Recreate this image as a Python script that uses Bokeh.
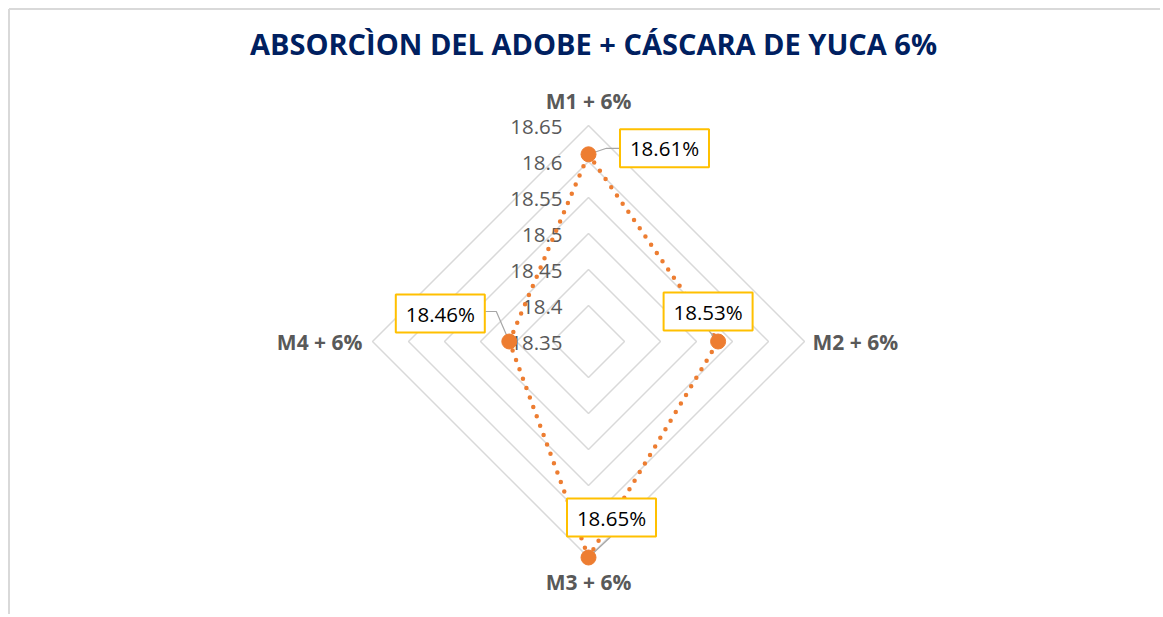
import numpy as np
from bokeh.plotting import figure
from bokeh.models import Range1d
from bokeh.core.properties import value
from bokeh.embed import file_html
from bokeh.resources import INLINE

# ---------------- data ----------------
title = "ABSORCÌON DEL ADOBE + CÁSCARA DE YUCA 6%"
categories = ["M1 + 6%", "M2 + 6%", "M3 + 6%", "M4 + 6%"]
values = [18.61, 18.53, 18.65, 18.46]
value_labels = ["18.61%", "18.53%", "18.65%", "18.46%"]
ticks = [18.35, 18.40, 18.45, 18.50, 18.55, 18.60, 18.65]
tick_labels = ["18.35", "18.4", "18.45", "18.5", "18.55", "18.6", "18.65"]
r_min, r_max = 18.35, 18.65

# ---------------- layout (pixels) ----------------
W, H = 1160, 614
S = 720.0          # pixels per value unit
cx, cy = 588, 341  # centre of the radar in figure pixels

FONT = value("Open Sans")
GRAY_TXT = "#595959"
RING = "#D9D9D9"
ORANGE = "#ED7D31"
GOLD = "#FFC000"

p = figure(width=W, height=H, output_backend="svg", toolbar_location=None,
           x_range=Range1d(-cx / S, (W - cx) / S),
           y_range=Range1d(-(H - cy) / S, cy / S),
           x_axis_location=None, y_axis_location=None, min_border=0)
p.grid.visible = False
p.outline_line_color = None
p.background_fill_color = "white"
p.border_fill_color = "white"

angles = np.pi / 2 - np.arange(len(categories)) * np.pi / 2


def polar(v, a):
    r = v - r_min
    return r * np.cos(a), r * np.sin(a)


# chart border (top and left visible)
x0, x1 = -cx / S, (W - cx) / S
y0, y1 = -(H - cy) / S, cy / S
bl, bt = x0 + 8.5 / S, y1 - 8.5 / S
p.segment(x0=[bl, bl], y0=[y0, bt], x1=[bl, x1], y1=[bt, bt],
          line_color=RING, line_width=2)

# rings
ring_xs, ring_ys = [], []
for t in ticks[1:]:
    pts = [polar(t, a) for a in angles]
    pts.append(pts[0])
    ring_xs.append([q[0] for q in pts])
    ring_ys.append([q[1] for q in pts])
p.multi_line(ring_xs, ring_ys, line_color=RING, line_width=1.5)

# tick labels
p.text(x=[-26 / S] * len(ticks), y=[t - r_min - 1 / S for t in ticks], text=tick_labels,
       text_font=FONT, text_font_size="20.5px", text_color=GRAY_TXT,
       text_align="right", text_baseline="middle")

# category labels
cat_off = [(0, 25, "center"), (8, 0, "left"), (0, -24, "center"), (-10, 0, "right")]
for c, a, (dx, dy, al) in zip(categories, angles, cat_off):
    x, y = polar(r_max, a)
    p.text(x=[x + dx / S], y=[y + dy / S], text=[c], text_font=FONT,
           text_font_size="21px", text_font_style="bold", text_color=GRAY_TXT,
           text_align=al, text_baseline="middle")

# series
pts = [polar(v, a) for v, a in zip(values, angles)]
sx = [q[0] for q in pts] + [pts[0][0]]
sy = [q[1] for q in pts] + [pts[0][1]]
p.line(sx, sy, line_color=ORANGE, line_width=4.5, line_dash="0 10", line_cap="round")

# leader lines (pixel offsets from each point)
leaders = [[(0, 0), (18, 6), (31, 6)],
           [(0, 0), (-9, 10.5)],
           [(0, 0), (22, 20.5)],
           [(0, 0), (-13, 30), (-24, 30)]]
lx, ly = [], []
for (px, py), ld in zip(pts, leaders):
    lx.append([px + d[0] / S for d in ld])
    ly.append([py + d[1] / S for d in ld])
p.multi_line(lx, ly, line_color="#A6A6A6", line_width=1.2)

p.scatter([q[0] for q in pts], [q[1] for q in pts], size=15, color=ORANGE)

# data label boxes
box_off = [(76, 6), (-10, 30), (23, 40), (-69, 28)]
bx = [q[0] + o[0] / S for q, o in zip(pts, box_off)]
by = [q[1] + o[1] / S for q, o in zip(pts, box_off)]
p.rect(bx, by, width=89, height=38, width_units="screen", height_units="screen",
       fill_color="white", line_color=GOLD, line_width=2)
p.text(bx, by, text=value_labels, text_font=FONT, text_font_size="20.5px",
       text_color="black", text_align="center", text_baseline="middle")

# title
p.text(x=[5 / S], y=[(cy - 43) / S], text=[title], text_font=FONT,
       text_font_size="29px", text_font_style="bold", text_color="#002060",
       text_align="center", text_baseline="middle")

open("out.html", "w").write(file_html(p, INLINE))
